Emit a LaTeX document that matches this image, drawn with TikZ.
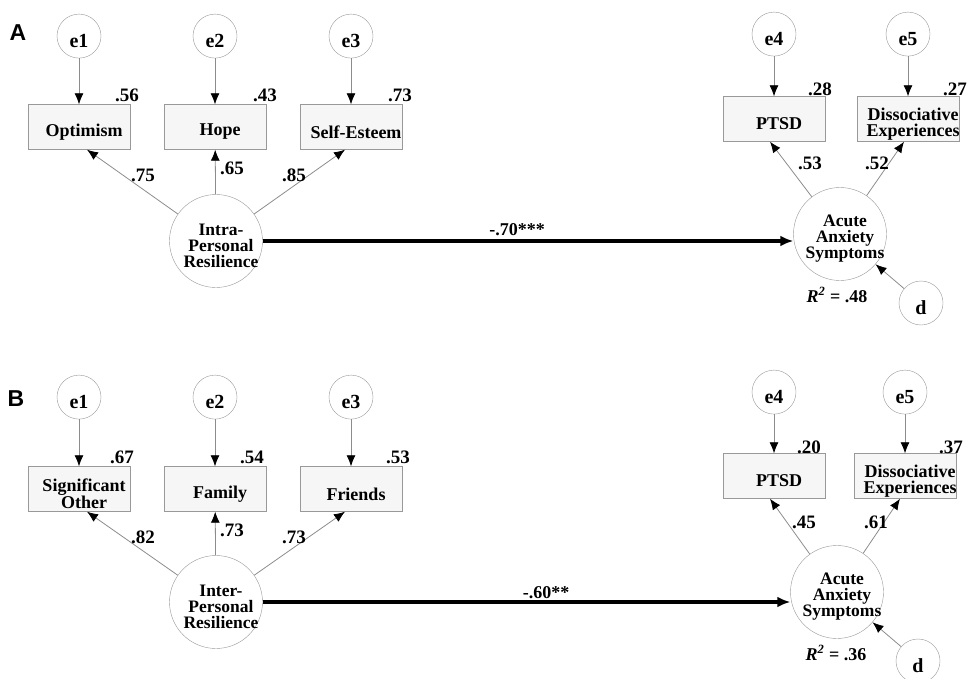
\documentclass[tikz,border=0pt]{standalone}
\usepackage{fontspec}
\setmainfont{Liberation Serif}
\newfontfamily\panelfont{Liberation Sans}
\usetikzlibrary{arrows.meta,positioning}

\begin{document}
\begin{tikzpicture}[x=1pt,y=-1pt,
  every node/.style={font=\bfseries\fontsize{18}{16}\selectfont},
  txt/.style={align=center,inner sep=0pt,xshift=5pt,yshift=-5pt},
  latent/.style={circle,draw=gray!80,fill=white,minimum size=93pt,inner sep=0pt,
    label={[txt,font=\bfseries\fontsize{17.5}{16}\selectfont]center:#1}},
  err/.style={circle,draw=gray!80,fill=white,minimum size=44pt,inner sep=0pt,
    label={[txt,xshift=-5pt,font=\bfseries\fontsize{20}{20}\selectfont]center:#1}},
  obs/.style={rectangle,draw=gray!80,fill=gray!7,minimum width=102pt,minimum height=45pt,inner sep=0pt,
    label={[txt]center:#1}},
  num/.style={font=\bfseries\fontsize{19}{19}\selectfont},
  load/.style={draw=gray!90,line width=0.8pt,-{Latex[black,length=11pt,width=9pt]}},
  effect/.style={line width=3.2pt,-{Latex[length=13pt,width=11pt]}},
  panel/.style={font=\panelfont\bfseries\fontsize{23}{23}\selectfont}]
\useasboundingbox (0,0) rectangle (968,679);

% panel A
\node[panel] (pa) at (18,33) {A};
\node[latent={Intra-\\Personal\\Resilience}] (ipr) at (216,241) {};
\node[obs=Optimism] (opt) at (79,127) {};
\node[obs=Hope] (hope) at (215,127) {};
\node[obs=Self-Esteem] (se) at (351,127) {};
\node[err=e1,above=46pt of opt] (e1) {};
\node[err=e2,above=46pt of hope] (e2) {};
\node[err=e3,above=46pt of se] (e3) {};
\node[latent={Acute\\Anxiety\\Symptoms}] (aas) at (840,234) {};
\node[obs=PTSD] (ptsd) at (774,119) {};
\node[obs={Dissociative\\Experiences}] (dis) at (908,119) {};
\node[err=e4,above=40pt of ptsd] (e4) {};
\node[err=e5,above=40pt of dis] (e5) {};
\node[err=d] (dd) at (921,303) {};

\draw[load] (e1) -- (opt);
\draw[load] (e2) -- (hope);
\draw[load] (e3) -- (se);
\draw[load] (e4) -- (ptsd);
\draw[load] (e5) -- (dis);
\draw[load] (ipr) -- ([xshift=8pt]opt.south);
\draw[load] (ipr) -- (hope);
\draw[load] (ipr) -- ([xshift=-6pt]se.south);
\draw[load] (aas) -- ([xshift=-4pt]ptsd.south);
\draw[load] (aas) -- ([xshift=-4pt]dis.south);
\draw[load] (dd) -- (aas);
\draw[effect] (ipr) -- (ipr -| aas.west);

\node[num] (va1) at (127,95) {.56};
\node[num] (va2) at (265,95) {.43};
\node[num] (va3) at (400,95) {.73};
\node[num] (va4) at (820,89) {.28};
\node[num] (va5) at (955,89) {.27};
\node[num] (la1) at (143,175) {.75};
\node[num] (la2) at (232,168) {.65};
\node[num] (la3) at (294,175) {.85};
\node[num] (la4) at (810,163) {.53};
\node[num] (la5) at (877,163) {.52};
\node (ba) at (517,230) {-.70***};
\node (ra) at (837,295) {\itshape R\textsuperscript{2}\upshape{} = .48};

% panel B
\node[panel] (pb) at (16,399) {B};
\node[latent={Inter-\\Personal\\Resilience}] (ipr2) at (216,602) {};
\node[obs={Significant\\Other}] (so) at (79,489) {};
\node[obs=Family] (fam) at (215,489) {};
\node[obs=Friends] (fri) at (351,489) {};
\node[err=e1,above=47pt of so] (f1) {};
\node[err=e2,above=47pt of fam] (f2) {};
\node[err=e3,above=47pt of fri] (f3) {};
\node[latent={Acute\\Anxiety\\Symptoms}] (aas2) at (837,592) {};
\node[obs=PTSD] (ptsd2) at (774,476) {};
\node[obs={Dissociative\\Experiences}] (dis2) at (905,476) {};
\node[err=e4,above=39pt of ptsd2] (f4) {};
\node[err=e5,above=39pt of dis2] (f5) {};
\node[err=d] (dd2) at (918,661) {};

\draw[load] (f1) -- (so);
\draw[load] (f2) -- (fam);
\draw[load] (f3) -- (fri);
\draw[load] (f4) -- (ptsd2);
\draw[load] (f5) -- (dis2);
\draw[load] (ipr2) -- ([xshift=8pt]so.south);
\draw[load] (ipr2) -- (fam);
\draw[load] (ipr2) -- ([xshift=-6pt]fri.south);
\draw[load] (aas2) -- ([xshift=-4pt]ptsd2.south);
\draw[load] (aas2) -- ([xshift=-5pt]dis2.south);
\draw[load] (dd2) -- (aas2);
\draw[effect] (ipr2) -- (ipr2 -| aas2.west);

\node[num] (vb1) at (122,457) {.67};
\node[num] (vb2) at (252,457) {.54};
\node[num] (vb3) at (398,457) {.53};
\node[num] (vb4) at (809,447) {.20};
\node[num] (vb5) at (951,447) {.37};
\node[num] (lb1) at (143,537) {.82};
\node[num] (lb2) at (232,530) {.73};
\node[num] (lb3) at (294,537) {.73};
\node[num] (lb4) at (804,522) {.45};
\node[num] (lb5) at (876,522) {.61};
\node (bb) at (546,593) {-.60**};
\node (rb) at (836,653) {\itshape R\textsuperscript{2}\upshape{} = .36};
\end{tikzpicture}
\end{document}
